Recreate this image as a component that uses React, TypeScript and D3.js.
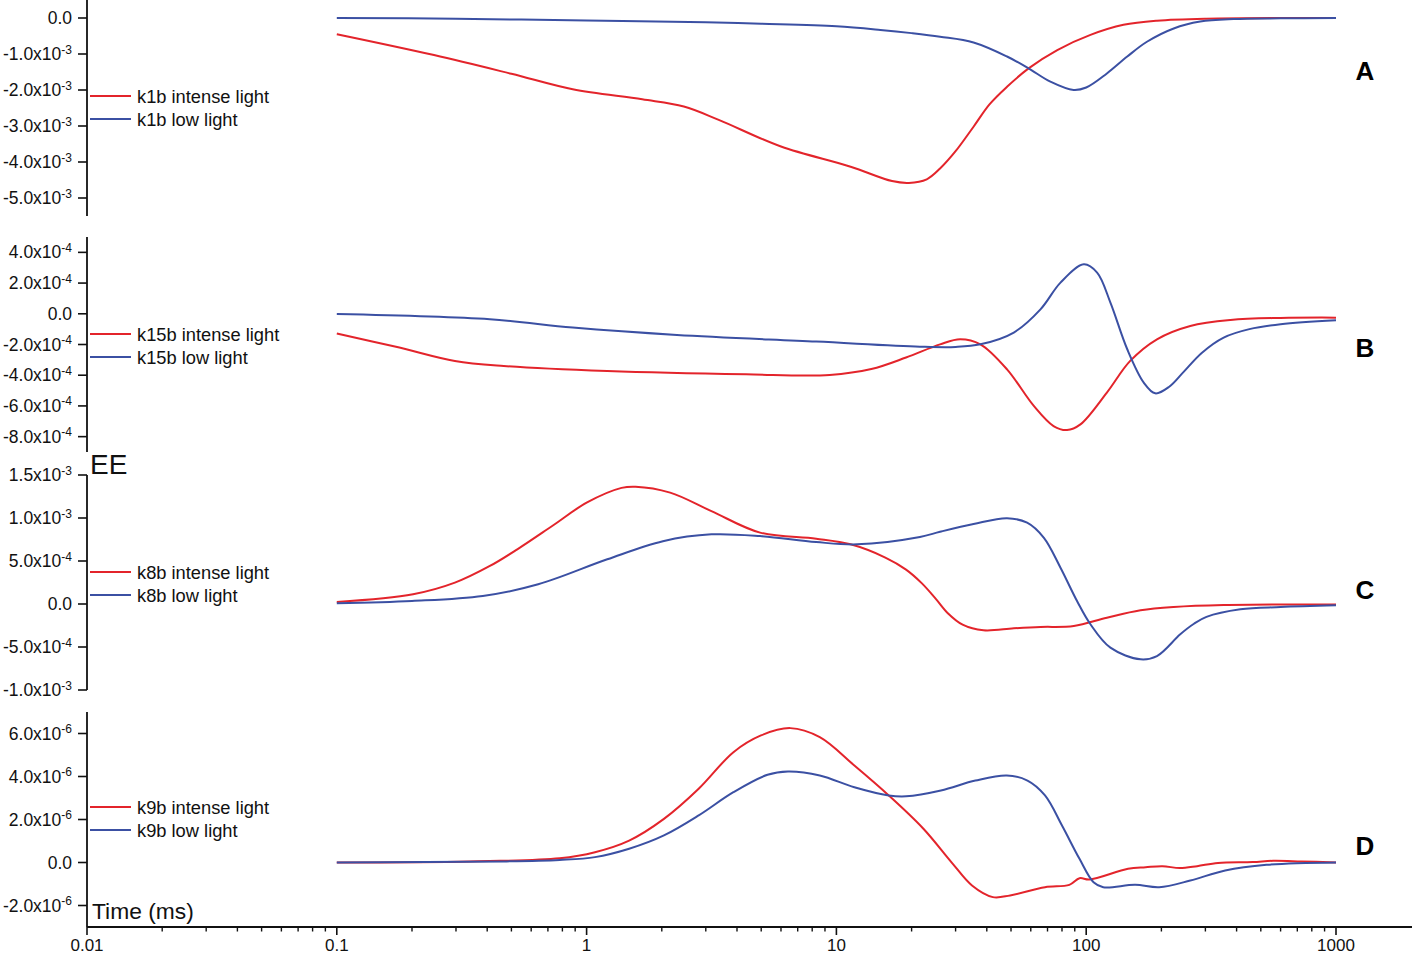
import React, { useEffect, useRef } from 'react';
import * as d3 from 'd3';

const RED = '#e3242b';
const BLUE = '#3b50a3';
const FONT = '"Liberation Sans", Arial, Helvetica, sans-serif';

// time (ms) / EE pairs
const k1bIntense: [number, number][] = [
  [0.1, -0.45e-3], [0.245, -1.03e-3], [0.5, -1.55e-3], [0.88, -1.98e-3], [1.67, -2.26e-3],
  [2.45, -2.46e-3], [3.38, -2.83e-3], [6.0, -3.57e-3], [11.4, -4.13e-3], [16.7, -4.53e-3],
  [19.5, -4.58e-3], [23, -4.48e-3], [26, -4.18e-3], [30, -3.7e-3], [35.4, -3.02e-3],
  [41, -2.4e-3], [48.2, -1.91e-3], [58.8, -1.4e-3], [76.6, -0.89e-3], [104, -0.47e-3],
  [141, -0.19e-3], [192, -0.075e-3], [303, -0.02e-3], [1000, 0],
];
const k1bLow: [number, number][] = [
  [0.1, 0], [0.3, -0.02e-3], [1, -0.07e-3], [3, -0.12e-3], [5, -0.16e-3], [10, -0.23e-3],
  [15, -0.33e-3], [20, -0.42e-3], [26, -0.52e-3], [35.4, -0.68e-3], [48.2, -1.07e-3],
  [58.8, -1.4e-3], [71.9, -1.77e-3], [89, -2.0e-3], [100, -1.93e-3], [121, -1.54e-3],
  [146, -1.07e-3], [175, -0.66e-3], [224, -0.29e-3], [286, -0.1e-3], [389, -0.03e-3],
  [600, -0.01e-3], [1000, 0],
];

const k15bIntense: [number, number][] = [
  [0.1, -1.29e-4], [0.178, -2.2e-4], [0.297, -3.07e-4], [0.466, -3.4e-4], [1.21, -3.73e-4],
  [4.35, -3.94e-4], [9.4, -3.98e-4], [13.8, -3.6e-4], [19, -2.85e-4], [26, -1.99e-4],
  [31.3, -1.66e-4], [37.7, -1.99e-4], [48.2, -3.62e-4], [61.7, -6.0e-4], [74, -7.31e-4],
  [83.8, -7.57e-4], [94.8, -7.2e-4], [121, -5.13e-4], [150, -3.07e-4], [192, -1.66e-4],
  [261, -0.79e-4], [378, -0.4e-4], [600, -0.27e-4], [1000, -0.25e-4],
];
const k15bLow: [number, number][] = [
  [0.1, -0.02e-4], [0.41, -0.36e-4], [0.88, -0.9e-4], [2.3, -1.38e-4], [8.3, -1.81e-4],
  [21.6, -2.14e-4], [30, -2.16e-4], [37.7, -1.99e-4], [51.3, -1.22e-4], [65.6, 0.29e-4],
  [78.9, 2.03e-4], [97.8, 3.22e-4], [110.6, 2.68e-4], [125, 0.73e-4], [146, -2.31e-4],
  [170, -4.48e-4], [189, -5.18e-4], [215, -4.75e-4], [245, -3.8e-4], [290, -2.55e-4],
  [355, -1.55e-4], [450, -1.0e-4], [600, -0.68e-4], [1000, -0.42e-4],
];

const k8bIntense: [number, number][] = [
  [0.1, 0.23e-4], [0.202, 1.13e-4], [0.297, 2.48e-4], [0.41, 4.42e-4], [0.528, 6.36e-4],
  [0.728, 9.07e-4], [1.0, 11.78e-4], [1.38, 13.5e-4], [1.57, 13.64e-4], [2.16, 12.95e-4],
  [3.16, 10.8e-4], [4.95, 8.3e-4], [8.3, 7.6e-4], [11.4, 6.94e-4], [15.7, 5.4e-4],
  [19, 4.0e-4], [22, 2.4e-4], [25, 0.6e-4], [28, -1.1e-4], [32, -2.4e-4], [38.8, -3.06e-4],
  [51.3, -2.83e-4], [65.6, -2.67e-4], [89.2, -2.56e-4], [121, -1.59e-4], [165, -0.73e-4],
  [224, -0.35e-4], [355, -0.12e-4], [1000, -0.05e-4],
];
const k8bLow: [number, number][] = [
  [0.1, 0.08e-4], [0.2, 0.35e-4], [0.384, 0.93e-4], [0.64, 2.29e-4], [1.21, 5.2e-4],
  [2.02, 7.3e-4], [3.16, 8.1e-4], [4.95, 7.9e-4], [8.3, 7.2e-4], [12.1, 6.94e-4],
  [21.6, 7.8e-4], [26, 8.4e-4], [35.4, 9.3e-4], [48.2, 9.97e-4], [58, 9.45e-4],
  [67.6, 7.71e-4], [78.9, 4.22e-4], [91.9, 0.35e-4], [104, -2.36e-4], [125, -5.08e-4],
  [165, -6.43e-4], [192, -6.05e-4], [238, -3.52e-4], [270, -2.3e-4], [303, -1.5e-4],
  [414, -0.62e-4], [600, -0.35e-4], [1000, -0.15e-4],
];

const k9bIntense: [number, number][] = [
  [0.1, 0], [0.34, 0.05e-6], [0.78, 0.2e-6], [1.08, 0.48e-6], [1.48, 1.02e-6],
  [2.04, 2.03e-6], [2.81, 3.43e-6], [3.87, 5.13e-6], [4.99, 5.91e-6], [6.54, 6.25e-6],
  [8.58, 5.83e-6], [11.8, 4.51e-6], [16.2, 3.12e-6], [22.3, 1.57e-6], [28.9, 0.01e-6],
  [34.9, -1.07e-6], [42.3, -1.61e-6], [49.6, -1.53e-6], [68.4, -1.15e-6], [85.6, -1.04e-6],
  [94, -0.73e-6], [103, -0.79e-6], [147, -0.29e-6], [173, -0.22e-6], [202, -0.17e-6],
  [237, -0.26e-6], [278, -0.17e-6], [337, -0.02e-6], [464, 0.02e-6], [560, 0.08e-6],
  [727, 0.05e-6], [1000, 0],
];
const k9bLow: [number, number][] = [
  [0.1, 0], [0.466, 0.05e-6], [0.78, 0.12e-6], [1.08, 0.25e-6], [1.48, 0.64e-6],
  [2.04, 1.26e-6], [2.81, 2.19e-6], [3.87, 3.27e-6], [5.3, 4.08e-6], [6.4, 4.23e-6],
  [8.58, 4.05e-6], [11.8, 3.5e-6], [16.2, 3.12e-6], [19, 3.08e-6], [26.2, 3.35e-6],
  [36, 3.81e-6], [48.1, 4.05e-6], [58.2, 3.81e-6], [68.4, 3.12e-6], [80, 1.72e-6],
  [94, 0.17e-6], [107, -0.92e-6], [117, -1.15e-6], [157, -1.04e-6], [196, -1.15e-6],
  [261, -0.84e-6], [360, -0.37e-6], [527, -0.11e-6], [1000, 0],
];

const ticksA = [0, -1e-3, -2e-3, -3e-3, -4e-3, -5e-3];
const ticksB = [4e-4, 2e-4, 0, -2e-4, -4e-4, -6e-4, -8e-4];
const ticksC = [1.5e-3, 1e-3, 5e-4, 0, -5e-4, -1e-3];
const ticksD = [6e-6, 4e-6, 2e-6, 0, -2e-6];

const timeMajor = [0.01, 0.1, 1, 10, 100, 1000];
const timeLabels = ['0.01', '0.1', '1', '10', '100', '1000'];

const panels = [
  { name: 'k1b', letter: 'A', domain: [-5.5e-3, 0.5e-3], range: [216, 0], ticks: ticksA, intense: k1bIntense, low: k1bLow, legendY: 96, letterY: 70 },
  { name: 'k15b', letter: 'B', domain: [-9e-4, 5e-4], range: [452, 237], ticks: ticksB, intense: k15bIntense, low: k15bLow, legendY: 334, letterY: 347 },
  { name: 'k8b', letter: 'C', domain: [-1e-3, 1.5e-3], range: [690, 475], ticks: ticksC, intense: k8bIntense, low: k8bLow, legendY: 572, letterY: 589 },
  { name: 'k9b', letter: 'D', domain: [-3e-6, 7e-6], range: [927, 712], ticks: ticksD, intense: k9bIntense, low: k9bLow, legendY: 807, letterY: 845 },
];

const sci = (v: number) => {
  if (v === 0) return { m: '0.0', e: null as string | null };
  const e = Math.floor(Math.log10(Math.abs(v)) + 1e-9);
  const m = v / Math.pow(10, e);
  return { m: `${m.toFixed(1)}x10`, e: `${e}` };
};

const App = () => {
  const svgRef = useRef(null);

  useEffect(() => {
    if (!svgRef.current) return;
    const svg = d3.select(svgRef.current);
    svg.selectAll('*').remove();

    const axisX = 87;
    const x = d3.scaleLog().domain([0.01, 2000]).range([axisX, 1411.2]);

    panels.forEach((p) => {
      const y = d3.scaleLinear().domain(p.domain).range(p.range);
      const g = svg.append('g');

      // y axis line
      g.append('line')
        .attr('x1', axisX).attr('x2', axisX)
        .attr('y1', p.range[1]).attr('y2', p.range[0])
        .attr('stroke', '#111').attr('stroke-width', 1.8);

      p.ticks.forEach((t) => {
        const ty = y(t);
        g.append('line')
          .attr('x1', axisX - 9).attr('x2', axisX)
          .attr('y1', ty).attr('y2', ty)
          .attr('stroke', '#111').attr('stroke-width', 1.6);
        const { m, e } = sci(t);
        const txt = g.append('text')
          .attr('x', 72).attr('y', ty + 6)
          .attr('text-anchor', 'end')
          .style('font-family', FONT).style('font-size', '17.5px').style('fill', '#111');
        txt.append('tspan').text(m);
        if (e) txt.append('tspan').attr('dy', -6.5).style('font-size', '12px').text(e);
      });

      const line = d3.line<[number, number]>()
        .x((d) => x(d[0]))
        .y((d) => y(d[1]))
        .curve(d3.curveCatmullRom.alpha(0.5));

      g.append('path').datum(p.intense).attr('d', line)
        .attr('fill', 'none').attr('stroke', RED).attr('stroke-width', 2);
      g.append('path').datum(p.low).attr('d', line)
        .attr('fill', 'none').attr('stroke', BLUE).attr('stroke-width', 2);

      // legend
      [[`${p.name} intense light`, RED, 0], [`${p.name} low light`, BLUE, 23]].forEach(([label, color, off]) => {
        const ly = p.legendY + (off as number);
        g.append('line')
          .attr('x1', 90).attr('x2', 131).attr('y1', ly).attr('y2', ly)
          .attr('stroke', color as string).attr('stroke-width', 2);
        g.append('text')
          .attr('x', 137).attr('y', ly + 6.5)
          .style('font-family', FONT).style('font-size', '18.3px').style('fill', '#111')
          .text(label as string);
      });

      g.append('text')
        .attr('x', 1365).attr('y', p.letterY + 9.5)
        .attr('text-anchor', 'middle')
        .style('font-family', FONT).style('font-size', '26px').style('font-weight', 'bold')
        .style('fill', '#000')
        .text(p.letter);
    });

    // time axis
    const axisY = 927;
    svg.append('line')
      .attr('x1', axisX).attr('x2', 1412).attr('y1', axisY).attr('y2', axisY)
      .attr('stroke', '#111').attr('stroke-width', 1.8);

    const minor = x.ticks().filter((t) => t <= 1000 && !timeMajor.some((m) => Math.abs(m - t) < 1e-12));
    minor.forEach((t) => {
      svg.append('line')
        .attr('x1', x(t)).attr('x2', x(t)).attr('y1', axisY).attr('y2', axisY + 4.5)
        .attr('stroke', '#111').attr('stroke-width', 1.4);
    });
    timeMajor.forEach((t, i) => {
      svg.append('line')
        .attr('x1', x(t)).attr('x2', x(t)).attr('y1', axisY).attr('y2', axisY + 8)
        .attr('stroke', '#111').attr('stroke-width', 1.6);
      svg.append('text')
        .attr('x', x(t)).attr('y', 950.5)
        .attr('text-anchor', 'middle')
        .style('font-family', FONT).style('font-size', '17px').style('fill', '#111')
        .text(timeLabels[i]);
    });

    svg.append('text')
      .attr('x', 90).attr('y', 474)
      .style('font-family', FONT).style('font-size', '28px').style('fill', '#111')
      .text('EE');

    svg.append('text')
      .attr('x', 92).attr('y', 919)
      .style('font-family', FONT).style('font-size', '22.8px').style('fill', '#111')
      .text('Time (ms)');
  }, []);

  return (
    <svg
      ref={svgRef}
      width={1412}
      height={955}
      style={{ position: 'absolute', left: 0, top: 0, background: '#fff' }}
    />
  );
};

export default App;
